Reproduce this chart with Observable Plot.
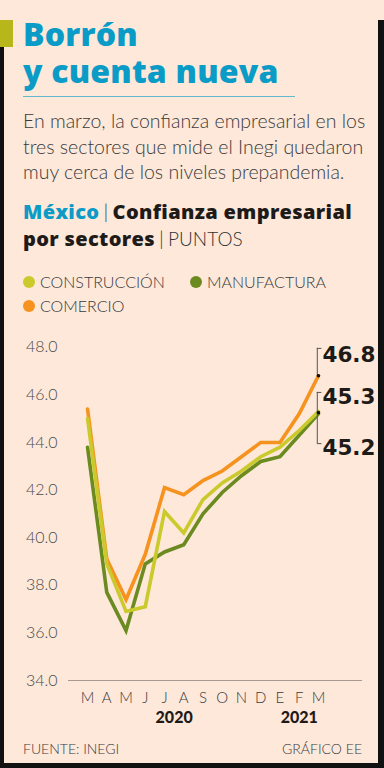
<!DOCTYPE html>
<html>
<head>
<meta charset="utf-8">
<script src="https://cdn.jsdelivr.net/npm/d3@7"></script>
<script src="https://cdn.jsdelivr.net/npm/@observablehq/plot@0.6"></script>
<style>
  html, body { margin: 0; padding: 0; }
  body { width: 384px; height: 768px; background: #fde8da; position: relative; overflow: hidden; font-family: Lato, "Noto Sans", sans-serif; }
  .abs { position: absolute; white-space: nowrap; }
  .title { left: 23px; font-family: "Open Sans", sans-serif; font-weight: 800; font-size: 32px; line-height: 32px; color: #0a9bc6; letter-spacing: 0.2px; }
  #rule { left: 23px; top: 96px; width: 272px; height: 1px; background: #63b9cf; }
  #desc { left: 23px; top: 108px; font-weight: 300; font-size: 19.5px; line-height: 25.5px; color: #3a3a3a; }
  #sub { left: 23px; top: 198px; font-family: "Open Sans", sans-serif; font-size: 20px; line-height: 26px; color: #1e1a18; font-weight: 800; letter-spacing: 0.35px; }
  #sub .mx { color: #0a9bc6; }
  #sub .sep { font-family: Lato, sans-serif; font-weight: 300; color: #333; margin: 0 4px; }
  #sub .u { font-family: Lato, sans-serif; font-weight: 300; color: #333; font-size: 19px; letter-spacing: 0; }
  .leg { font-weight: 300; font-size: 16px; color: #3a3a3a; display: flex; align-items: center; }
  .leg i { display: inline-block; width: 12px; height: 12px; border-radius: 50%; margin-right: 5px; }
  #chart { left: 0; top: 330px; }
  .foot { top: 740px; font-weight: 300; font-size: 14px; color: #3a3a3a; }
  #lb { left: 0; top: 47px; width: 4px; height: 721px; background: #111; }
  #rb { left: 378px; top: 20px; width: 6px; height: 748px; background: #111; }
  #bb { left: 0; top: 763px; width: 384px; height: 5px; background: #111; }
  #sq { left: 0; top: 20px; width: 13px; height: 27px; background: #b7b71b; }
</style>
</head>
<body>
<div id="sq" class="abs"></div>
<div id="lb" class="abs"></div>
<div id="rb" class="abs"></div>
<div id="bb" class="abs"></div>
<div class="abs title" style="top:18px">Borrón</div>
<div class="abs title" style="top:55px">y cuenta nueva</div>
<div id="rule" class="abs"></div>
<div id="desc" class="abs">En marzo, la confianza empresarial en los<br>tres sectores que mide el Inegi quedaron<br>muy cerca de los niveles prepandemia.</div>
<div id="sub" class="abs"><span class="mx">México</span><span class="sep">|</span>Confianza empresarial<br>por sectores<span class="sep">|</span><span class="u">PUNTOS</span></div>
<div id="legend"></div>
<div id="chart" class="abs"></div>
<div class="abs foot" style="left:23px">FUENTE: INEGI</div>
<div class="abs foot" style="right:22px">GRÁFICO EE</div>
<script>
// ---- data ----
const monthLabels = ["M","A","M","J","J","A","S","O","N","D","E","F","M"];
const monthYears  = [2020,2020,2020,2020,2020,2020,2020,2020,2020,2020,2021,2021,2021];
const seriesNames = ["CONSTRUCCIÓN","MANUFACTURA","COMERCIO"];
const seriesColors = ["#cbca2c","#6b8b20","#f6921e"];
const construccion = [45.0, 38.9, 36.9, 37.1, 41.1, 40.2, 41.6, 42.3, 42.8, 43.4, 43.8, 44.5, 45.3];
const manufactura  = [43.8, 37.7, 36.1, 38.9, 39.4, 39.7, 41.0, 41.9, 42.6, 43.2, 43.4, 44.3, 45.2];
const comercio     = [45.4, 39.1, 37.4, 39.3, 42.1, 41.8, 42.4, 42.8, 43.4, 44.0, 44.0, 45.2, 46.8];
const yTicks = [34, 36, 38, 40, 42, 44, 46, 48];

// legend
const legendPos = [[23,272],[190,272],[23,296]];
const legend = document.getElementById("legend");
seriesNames.forEach((n,i) => {
  const d = document.createElement("div");
  d.className = "abs leg";
  d.style.left = legendPos[i][0] + "px";
  d.style.top = legendPos[i][1] + "px";
  d.innerHTML = `<i style="background:${seriesColors[i]}"></i>${n}`;
  legend.appendChild(d);
});

// tidy table
const allSeries = [construccion, manufactura, comercio];
const rows = [];
const drawOrder = [2, 1, 0];
drawOrder.forEach(s => allSeries[s].forEach((v, i) => rows.push({i, v, s: seriesNames[s]})));

const last = monthLabels.length - 1;
const pairMid = (construccion[last] + manufactura[last]) / 2;

// year labels centred on their months
const yearLabels = Array.from(d3.group(monthLabels.map((m,i)=>({i, y: monthYears[i]})), d => d.y),
  ([y, arr]) => ({year: String(y), i: d3.mean(arr, d => d.i)}));

const endLabel = (value, dy) => Plot.text([value], {
  x: () => last, y: d => d, text: d => d.toFixed(1), dy, dx: 4, textAnchor: "start",
  fontFamily: "DejaVu Sans, sans-serif", fontSize: 21.5, fontWeight: 700, fill: "#1e1a18"
});

const chart = Plot.plot({
  width: 384,
  height: 410,
  marginTop: 16.7,
  marginBottom: 60,
  marginLeft: 68,
  marginRight: 22,
  style: {background: "transparent", fontFamily: "Lato, sans-serif", overflow: "visible"},
  x: {domain: [-0.99, 14.29], axis: null},
  y: {domain: [34, 48], axis: null},
  color: {domain: seriesNames, range: seriesColors},
  marks: [
    Plot.axisY(yTicks, {label: null, tickSize: 0, tickPadding: 11, tickFormat: d => d.toFixed(1), fontSize: 16, fontWeight: 300, fill: "#4a4a4a"}),
    Plot.axisX(d3.range(monthLabels.length), {label: null, tickSize: 0, tickPadding: 12, tickFormat: i => monthLabels[i], fontSize: 15, fontWeight: 300, fill: "#3a3a3a"}),
    Plot.ruleY([34], {stroke: "#a89a90", strokeWidth: 1.2}),
    Plot.line(rows, {x: "i", y: "v", z: "s", stroke: "s", strokeWidth: 3.6, strokeLinejoin: "miter", strokeMiterlimit: 3}),
    // brackets
    Plot.ruleX([last - 0.06], {y1: comercio[last], y2: comercio[last] + 1.15, stroke: "#555", strokeWidth: 1}),
    Plot.ruleY([comercio[last] + 1.15], {x1: last - 0.06, x2: last + 0.18, stroke: "#555", strokeWidth: 1}),
    Plot.ruleX([last - 0.06], {y1: pairMid + 0.85, y2: pairMid - 1.3, stroke: "#555", strokeWidth: 1}),
    Plot.ruleY([pairMid + 0.85, pairMid - 1.3], {x1: last - 0.06, x2: last + 0.18, stroke: "#555", strokeWidth: 1}),
    Plot.dot([comercio[last], pairMid], {x: () => last, y: d => d, r: 1.8, fill: "#111"}),
    endLabel(comercio[last], -21),
    endLabel(construccion[last], -14),
    endLabel(manufactura[last], 34),
    Plot.text(yearLabels, {x: "i", y: () => 34, text: "year", dy: 37, fontSize: 16, fontWeight: 900, fill: "#1e1a18"})
  ]
});
document.getElementById("chart").appendChild(chart);
</script>
</body>
</html>
